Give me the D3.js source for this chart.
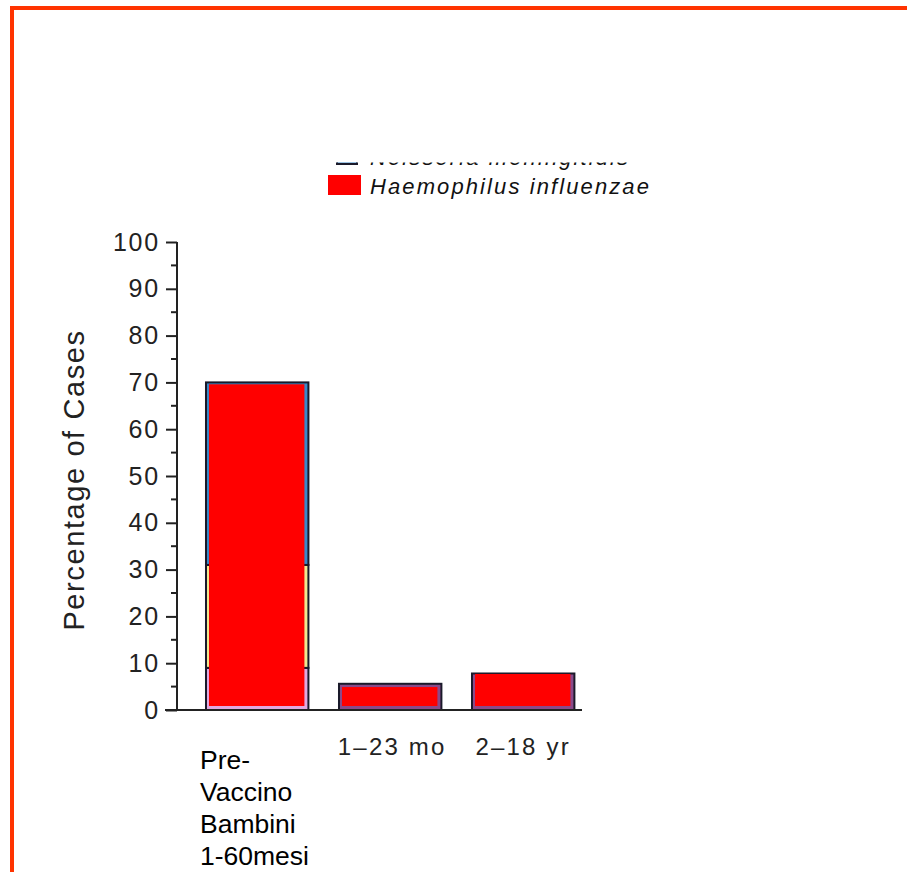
<!DOCTYPE html>
<html>
<head>
<meta charset="utf-8">
<script src="https://cdn.jsdelivr.net/npm/d3@7"></script>
<style>
  html, body { margin: 0; padding: 0; background: #fff; }
  svg { display: block; }
</style>
</head>
<body>
<svg id="chart" width="907" height="872"></svg>
<script>
// ---- data ----
const categories = ["Pre-Vaccino", "1\u201323 mo", "2\u201318 yr"];
const categoryLabelLines = [["Pre-", "Vaccino", "Bambini", "1-60mesi"], ["1\u201323 mo"], ["2\u201318 yr"]];
// underlying stacked series (mostly hidden behind the red overlay)
const seriesNames = ["Altri", "Streptococcus pneumoniae", "Neisseria meningitidis"];
const seriesBottom = [9, 5.6, 7.8];
const seriesMiddle = [22, 0, 0];
const seriesTop = [39, 0, 0];
const hibValues = [69.6, 4.9, 7.7];
const legendLabels = ["Neisseria meningitidis", "Haemophilus influenzae"];
const yTicks = [0, 10, 20, 30, 40, 50, 60, 70, 80, 90, 100];
const yMinorTicks = [5, 15, 25, 35, 45, 55, 65, 75, 85, 95];

const svg = d3.select("#chart");

// frame
svg.append("line").attr("x1", 12).attr("x2", 907).attr("y1", 8).attr("y2", 8)
  .attr("stroke", "#ff3300").attr("stroke-width", 4);
svg.append("line").attr("x1", 12).attr("x2", 12).attr("y1", 6).attr("y2", 872)
  .attr("stroke", "#ff3300").attr("stroke-width", 4);

const y = d3.scaleLinear().domain([0, 100]).range([710, 242]);
const x = d3.scaleBand().domain(categories).range([190.7, 589.7])
  .paddingInner(0.23).paddingOuter(0.115);

const font = "Arial, 'Liberation Sans', sans-serif";

// y axis
const axisG = svg.append("g").attr("transform", "translate(177,0)");
axisG.call(d3.axisLeft(y).tickValues(yTicks).tickSize(11).tickPadding(6).tickFormat(d3.format("d")));
axisG.select(".domain").remove();
axisG.selectAll(".tick line").attr("stroke", "#222").attr("stroke-width", 2);
axisG.selectAll(".tick text").attr("font-family", font).attr("font-size", 25)
  .attr("letter-spacing", 1.8).attr("fill", "#222");
axisG.selectAll(".minor").data(yMinorTicks).enter().append("line")
  .attr("x1", -6).attr("x2", 0).attr("y1", d => y(d)).attr("y2", d => y(d))
  .attr("stroke", "#222").attr("stroke-width", 2);
svg.append("line").attr("x1", 177).attr("x2", 177).attr("y1", y(100)).attr("y2", y(0))
  .attr("stroke", "#222").attr("stroke-width", 2);

// y title
svg.append("text").attr("transform", "translate(84,480) rotate(-90)")
  .attr("text-anchor", "middle").attr("font-family", font).attr("font-size", 29)
  .attr("letter-spacing", 1.6).attr("fill", "#222").text("Percentage of Cases");

// stacked underlying bars
const stackData = categories.map((c, i) => ({
  cat: c, a: seriesBottom[i], b: seriesMiddle[i], c: seriesTop[i]
}));
const stack = d3.stack().keys(["a", "b", "c"]);
const stacked = stack(stackData);
const segColors = [["#e0a8e0", "#8a4a8a", "#8a4a8a"], ["#f0e890", "#f0e890", "#f0e890"], ["#3a88c8", "#3a88c8", "#3a88c8"]];
stacked.forEach((layer, li) => {
  svg.append("g").selectAll("rect").data(layer).enter().append("rect")
    .filter(d => d[1] - d[0] > 0)
    .attr("x", d => x(d.data.cat))
    .attr("width", x.bandwidth())
    .attr("y", d => y(d[1]))
    .attr("height", d => y(d[0]) - y(d[1]))
    .attr("fill", (d, i) => segColors[li][categories.indexOf(d.data.cat)])
    .attr("stroke", "#1a1a2a").attr("stroke-width", 2);
});

// red overlay (Haemophilus influenzae)
svg.append("g").selectAll("rect").data(hibValues).enter().append("rect")
  .attr("x", (d, i) => x(categories[i]) + 3)
  .attr("width", x.bandwidth() - 7)
  .attr("y", d => y(d))
  .attr("height", d => y(0) - 4 - y(d))
  .attr("fill", "#ff0000");

// baseline
svg.append("line").attr("x1", 165).attr("x2", 582).attr("y1", y(0)).attr("y2", y(0))
  .attr("stroke", "#222").attr("stroke-width", 2);

// category labels
categoryLabelLines.forEach((lines, i) => {
  if (lines.length > 1) {
    const t = svg.append("text").attr("font-family", font).attr("font-size", 26.5).attr("fill", "#000");
    lines.forEach((ln, j) => {
      t.append("tspan").attr("x", 200).attr("y", 769 + j * 32).text(ln);
    });
  } else {
    svg.append("text").attr("x", x(categories[i]) + x.bandwidth() / 2 + (i === 1 ? 2 : 0))
      .attr("y", 755).attr("text-anchor", "middle")
      .attr("font-family", font).attr("font-size", 24).attr("fill", "#222")
      .attr("letter-spacing", 2.2)
      .text(lines[0]);
  }
});

// legend
const clip = svg.append("defs").append("clipPath").attr("id", "legclip");
clip.append("rect").attr("x", 300).attr("y", 162.5).attr("width", 500).attr("height", 50);
const leg = svg.append("g").attr("clip-path", "url(#legclip)");
legendLabels.forEach((lab, i) => {
  const yy = 153 + i * 29;
  leg.append("rect").attr("x", 337).attr("y", yy - 6).attr("width", 20).attr("height", 17)
    .attr("fill", i === 0 ? "#3a88c8" : "#1a1a3a").attr("stroke", "#1a1a2a").attr("stroke-width", 2);
  if (i === 1) {
    leg.append("rect").attr("x", 328).attr("y", yy - 7).attr("width", 33).attr("height", 20).attr("fill", "#ff0000");
  }
  leg.append("text").attr("x", 370).attr("y", yy + 12)
    .attr("font-family", font).attr("font-size", 22).attr("font-style", "italic")
    .attr("letter-spacing", 2.1).attr("fill", "#111").text(lab);
});
</script>
</body>
</html>
